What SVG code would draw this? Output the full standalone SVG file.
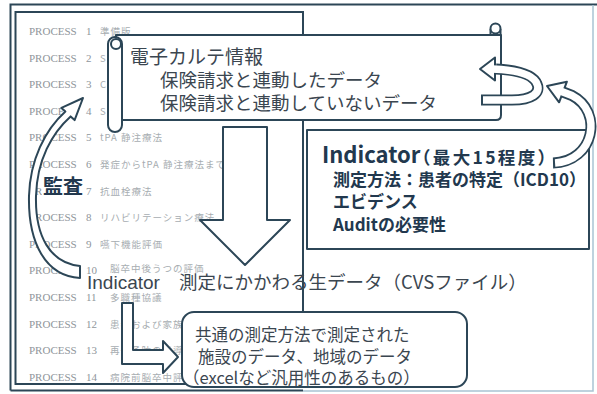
<svg xmlns="http://www.w3.org/2000/svg" width="597" height="394" viewBox="0 0 597 394">
<style>
.frame{fill:none;stroke:#2c4657;stroke-width:2}
.shape{fill:#fff;stroke:#2c4657;stroke-width:2;stroke-linejoin:round}
.proc{font-family:"Liberation Serif",serif;font-size:11px;fill:#8f969b}
.procj{font-family:"Noto Sans CJK JP",sans-serif;font-size:9.5px;fill:#a7adb1;letter-spacing:1px}
.jp{font-family:"Noto Sans CJK JP",sans-serif;fill:#3b4650}
.lat{font-family:"Liberation Sans",sans-serif;fill:#3b4650}
.bold{font-family:"Noto Sans CJK JP",sans-serif;font-weight:700;fill:#22384e}
.band{fill:none;stroke:#2c4657;stroke-width:11;stroke-linejoin:round}
.bandw{fill:none;stroke:#fff;stroke-width:7.5;stroke-linejoin:round;stroke-dasharray:0 2 600}
</style>
<rect width="597" height="394" fill="#fff"/>
<g id="process-page">
<rect x="15.5" y="12" width="287.5" height="372" class="frame"/>
<g class="proc">
<text x="29" y="35">PROCESS<tspan x="86">1</tspan></text>
<text x="29" y="61.6">PROCESS<tspan x="86">2</tspan></text>
<text x="29" y="88.2">PROCESS<tspan x="86">3</tspan></text>
<text x="29" y="114.8">PROCESS<tspan x="86">4</tspan></text>
<text x="29" y="141.4">PROCESS<tspan x="86">5</tspan></text>
<text x="29" y="168">PROCESS<tspan x="86">6</tspan></text>
<text x="29" y="194.6">PROCESS<tspan x="86">7</tspan></text>
<text x="29" y="221.2">PROCESS<tspan x="86">8</tspan></text>
<text x="29" y="247.8">PROCESS<tspan x="86">9</tspan></text>
<text x="29" y="274.4">PROCESS<tspan x="86">10</tspan></text>
<text x="29" y="301">PROCESS<tspan x="86">11</tspan></text>
<text x="29" y="327.6">PROCESS<tspan x="86">12</tspan></text>
<text x="29" y="354.2">PROCESS<tspan x="86">13</tspan></text>
<text x="29" y="380.8">PROCESS<tspan x="86">14</tspan></text>
</g>
<g class="procj">
<text x="100" y="35">準備版</text>
<text x="100" y="61.6">S</text>
<text x="100" y="88.2">C</text>
<text x="100" y="114.8">S</text>
<text x="100" y="141.4">tPA 静注療法</text>
<text x="100" y="168">発症からtPA 静注療法までの時間</text>
<text x="100" y="194.6">抗血栓療法</text>
<text x="100" y="221.2">リハビリテーション療法</text>
<text x="100" y="247.8">嚥下機能評価</text>
<text x="110" y="272">脳卒中後うつの評価</text>
<text x="110" y="301">多職種協議</text>
<text x="110" y="327.6">患者および家族教育</text>
<text x="110" y="354.2">再発予防の指導</text>
<text x="110" y="380.8">病院前脳卒中評価</text>
</g>
</g>
<g id="outer-frame">
<path d="M10.5 390.5 L10.5 4.5 L597 4.5" class="frame"/>
<path d="M10.5 390.5 L303 390.5" class="frame"/>
<path d="M303 391 L593 391 L593 5" fill="none" stroke="#a9c3d3" stroke-width="1.5"/>
</g>
<g id="scroll">
<path d="M116 35 L501 35 L501 115 Q501 120 496 120 L116 120 Z" class="shape"/>
<rect x="108" y="37" width="14" height="95" rx="7" class="shape"/>
<circle cx="116" cy="44" r="5" fill="none" stroke="#2c4657" stroke-width="2"/>
<path d="M490.5 29 L490.5 35 M500.5 29 L500.5 35" class="frame"/>
<circle cx="495.5" cy="28.5" r="5" class="shape"/>
<text x="130" y="64" class="jp" font-size="19">電子カルテ情報</text>
<text x="160" y="87" class="jp" font-size="18.5">保険請求と連動したデータ</text>
<text x="160" y="110" class="jp" font-size="18.5">保険請求と連動していないデータ</text>
</g>
<g id="indicator-box">
<rect x="307" y="130" width="282" height="119" class="shape"/>
<text x="322" y="163" class="bold" font-size="22">Indicator</text>
<text x="413" y="164" class="bold" font-size="17.5" textLength="142" lengthAdjust="spacing">（最大15程度）</text>
<text x="333" y="186" class="bold" font-size="17">測定方法：患者の特定（ICD10）</text>
<text x="333" y="208" class="bold" font-size="17">エビデンス</text>
<text x="333" y="231" class="bold" font-size="17">Auditの必要性</text>
</g>
<g id="result-box">
<rect x="182" y="312" width="285" height="75" rx="12" class="shape"/>
<text x="195" y="341" class="jp" font-size="16.5">共通の測定方法で測定された</text>
<text x="198" y="363" class="jp" font-size="16.5">施設のデータ、地域のデータ</text>
<text x="183" y="384" class="jp" font-size="16.5">（excelなど汎用性のあるもの）</text>
</g>
<g id="audit-label">
<rect x="42" y="177" width="42" height="21" fill="#fff"/>
<text x="43" y="194" class="bold" font-size="20" fill="#2a4055">監査</text>
</g>
<g id="raw-data-label">
<text x="87" y="289" class="lat" font-size="19">Indicator</text>
<text x="179" y="289" class="jp" font-size="18.5">測定にかかわる生データ（CVSファイル）</text>
</g>
<g id="connectors">
<polygon points="223,127 267,127 267,220 290,220 245,265 200,220 223,220" class="shape"/>
<path d="M122 303 L133 303 L133 350 L163 350 L163 341 L178 357 L163 373 L163 364 L122 364 Z" class="shape"/>
<path d="M80 278 C45 276 28 242 29 196 C30 160 45 130 65.4 111.6 L61.4 107.9 L83 98 L74.6 120.1 L70.6 116.4 C52 133 37 160 36 196 C35 236 50 263 80 266 Z" class="shape"/>
<path d="M481 100 L512 100 C532 100 541 93 537 84 C533 74 516 70 496 69" class="band"/>
<polygon points="495,57.5 480,69 495,80.5" class="shape"/>
<path d="M481 100 L512 100 C532 100 541 93 537 84 C533 74 516 70 492 69" class="bandw"/>
<path d="M553 163 C594 162 604 112 572 95.5 L563 92" class="band"/>
<polygon points="566.9,81.7 547,86 559.1,102.3" class="shape"/>
<path d="M553 163 C594 162 604 112 572 95.5 L556.4 89.5" class="bandw"/>
</g>
</svg>
